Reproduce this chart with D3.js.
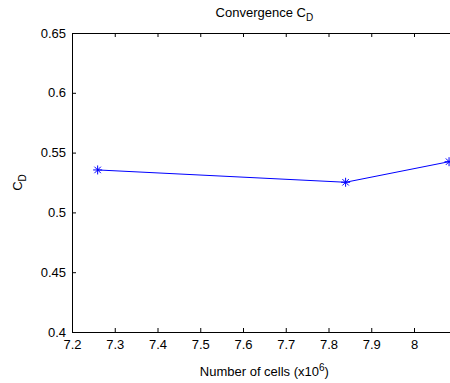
<!DOCTYPE html>
<html><head><meta charset="utf-8">
<script src="https://cdn.jsdelivr.net/npm/d3@7"></script>
<style>body{margin:0;background:#fff;overflow:hidden}svg{display:block}text{font-family:"Liberation Sans",Arial,sans-serif}</style>
</head><body>
<svg id="c" width="450" height="383"></svg>
<script>
const cells = [7.26, 7.84, 8.082];
const cd = [0.5355, 0.5252, 0.5424];
const xTicks = [7.2, 7.3, 7.4, 7.5, 7.6, 7.7, 7.8, 7.9, 8.0];
const yTicks = [0.4, 0.45, 0.5, 0.55, 0.6, 0.65];

const svg = d3.select("#c");
const L = 72, R = 456.75, T = 33, B = 332;
const x = d3.scaleLinear().domain([7.2, 8.1]).range([L, R]);
const y = d3.scaleLinear().domain([0.4, 0.65]).range([B, T]);
const fmt = d => String(+d.toFixed(2));

// axes (ticks inward)
const gx = svg.append("g").attr("transform", `translate(0,${B})`)
  .call(d3.axisBottom(x).tickValues(xTicks).tickSizeInner(-4).tickSizeOuter(0).tickPadding(8).tickFormat(fmt));
const gxt = svg.append("g").attr("transform", `translate(0,${T})`)
  .call(d3.axisTop(x).tickValues(xTicks).tickSizeInner(-4).tickSizeOuter(0).tickFormat(""));
const gy = svg.append("g").attr("transform", `translate(${L},0)`)
  .call(d3.axisLeft(y).tickValues(yTicks).tickSizeInner(-4).tickSizeOuter(0).tickPadding(6).tickFormat(fmt));
const gyr = svg.append("g").attr("transform", `translate(${R},0)`)
  .call(d3.axisRight(y).tickValues(yTicks).tickSizeInner(-4).tickSizeOuter(0).tickFormat(""));
[gx, gxt, gy, gyr].forEach(g => {
  g.selectAll("path,line").attr("stroke", "#000").attr("stroke-width", 1);
  g.selectAll("text").attr("fill", "#000").style("font-size", "13px").style("font-family", '"Liberation Sans",Arial,sans-serif');
});

// line
const line = d3.line().x((d, i) => x(cells[i])).y(d => y(d));
svg.append("path").datum(cd).attr("d", line).attr("fill", "none").attr("stroke", "#0000ff").attr("stroke-width", 1);

// asterisk markers
const s = 4.5;
cd.forEach((v, i) => {
  const cx = x(cells[i]), cy = y(v);
  const g = svg.append("g").attr("stroke", "#0000ff").attr("stroke-width", 1);
  g.append("line").attr("x1", cx - s).attr("x2", cx + s).attr("y1", cy).attr("y2", cy);
  g.append("line").attr("x1", cx).attr("x2", cx).attr("y1", cy - s).attr("y2", cy + s);
  const d = s * 0.72;
  g.append("line").attr("x1", cx - d).attr("x2", cx + d).attr("y1", cy - d).attr("y2", cy + d);
  g.append("line").attr("x1", cx - d).attr("x2", cx + d).attr("y1", cy + d).attr("y2", cy - d);
});

// title
const cxm = (L + R) / 2;
const t = svg.append("text").attr("x", cxm).attr("y", 17).attr("text-anchor", "middle").style("font-size", "13px");
t.append("tspan").text("Convergence C");
t.append("tspan").attr("dy", 4).style("font-size", "10px").text("D");

// x label
const xl = svg.append("text").attr("x", cxm).attr("y", 376).attr("text-anchor", "middle").style("font-size", "13px");
xl.append("tspan").text("Number of cells (x10");
xl.append("tspan").attr("dy", -5).style("font-size", "10px").text("6");
xl.append("tspan").attr("dy", 5).text(")");

// y label
const yl = svg.append("text").attr("transform", `translate(22,${(T + B) / 2}) rotate(-90)`).attr("text-anchor", "middle").style("font-size", "13px");
yl.append("tspan").text("C");
yl.append("tspan").attr("dy", 4).style("font-size", "10px").text("D");
</script>
</body></html>
